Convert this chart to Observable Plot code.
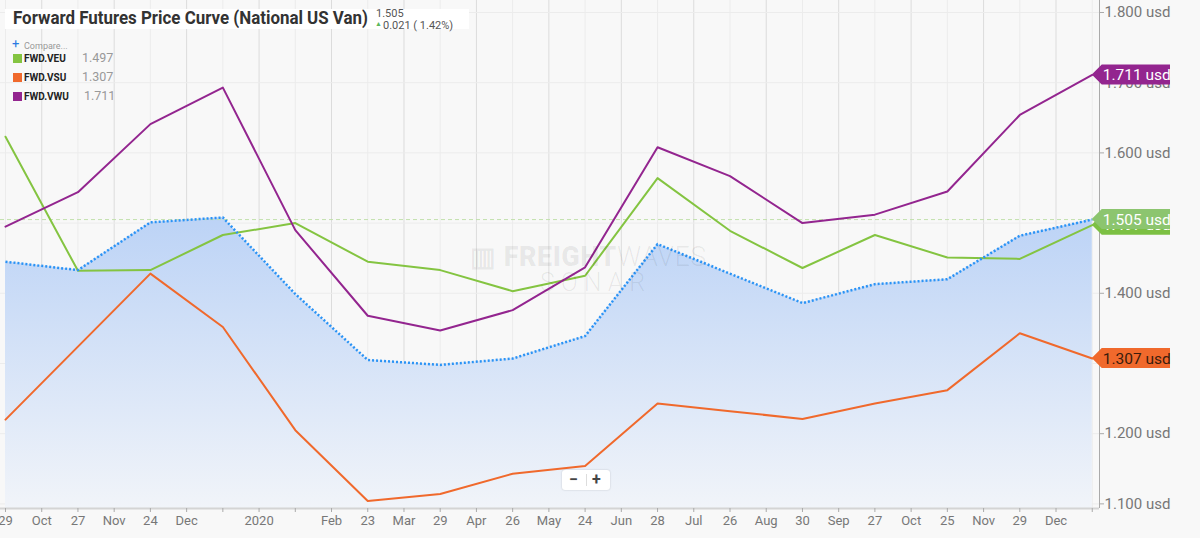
<!DOCTYPE html>
<html><head><meta charset="utf-8">
<script src="https://cdn.jsdelivr.net/npm/d3@7"></script>
<script src="https://cdn.jsdelivr.net/npm/@observablehq/plot@0.6"></script>
<style>
body{margin:0;background:#f8f8f8;font-family:Roboto,sans-serif;}
#wrap{position:relative;width:1200px;height:538px;overflow:hidden;}
.ov{position:absolute;white-space:nowrap;line-height:1;}
</style></head><body>
<div id="wrap">
<div id="chart"></div>
<div class="ov" style="left:5px;top:9px;width:464px;height:20px;background:#fff;"></div>
<div class="ov" id="title" style="left:13px;top:9px;font-size:18px;font-weight:700;color:#333;transform-origin:0 0;">Forward Futures Price Curve (National US Van)</div>
<div class="ov" id="lastVal" style="left:376px;top:7.5px;font-size:11px;color:#555;"></div>
<div class="ov" style="left:375px;top:21px;font-size:7px;color:#5cb85c;">▲</div>
<div class="ov" id="chg" style="left:383px;top:19.5px;font-size:11px;color:#555;"></div>
<div class="ov" style="left:12px;top:37px;font-size:13px;color:#2a7ae2;">+</div>
<div class="ov" style="left:24px;top:41.5px;font-size:9px;color:#999;">Compare...</div>
<div id="legend"></div>
<div class="ov" style="left:470px;top:244px;font-size:27px;font-weight:900;color:rgba(0,0,0,0.07);letter-spacing:0.5px;">▥ FREIGHT<span style="font-weight:300">WAVES</span></div>
<div class="ov" style="left:540px;top:270px;font-size:25px;font-weight:300;color:rgba(0,0,0,0.07);letter-spacing:6px;">SONAR</div>
<div class="ov" style="left:562px;top:470px;width:48px;height:20px;background:#fff;border-radius:3px;box-shadow:0 0 2px rgba(0,0,0,0.2);"></div>
<div class="ov" style="left:569px;top:472px;font-size:16px;font-weight:700;color:#444;">−</div>
<div class="ov" style="left:586px;top:474px;width:1px;height:12px;background:#ddd;"></div>
<div class="ov" style="left:592px;top:472px;font-size:16px;font-weight:700;color:#444;">+</div>
</div>
<script>
// ---- data ----
const tickLabels = ["29","Oct","27","Nov","24","Dec","","2020","","Feb","23","Mar","29","Apr","26","May","24","Jun","28","Jul","26","Aug","30","Sep","27","Oct","25","Nov","29","Dec",""];
const van = [1.445,1.433,1.501,1.508,1.399,1.305,1.298,1.307,1.339,1.470,1.428,1.386,1.413,1.420,1.482,1.505];
const veu = [1.623,1.432,1.433,1.483,1.500,1.445,1.433,1.403,1.425,1.564,1.489,1.436,1.483,1.451,1.449,1.497];
const vsu = [1.220,1.324,1.428,1.352,1.205,1.104,1.114,1.143,1.154,1.243,1.232,1.221,1.243,1.262,1.343,1.307];
const vwu = [1.495,1.544,1.641,1.693,1.490,1.368,1.347,1.376,1.437,1.608,1.567,1.500,1.512,1.545,1.654,1.711];
const seriesNames = ["FWD.VEU","FWD.VSU","FWD.VWU"];
const seriesLast = ["1.497","1.307","1.711"];
const seriesColors = ["#84c441","#f0692c","#93258f"];
const yTicks = [1.1,1.2,1.3,1.4,1.5,1.6,1.7,1.8];
const change = "0.021 ( 1.42%)";

// ---- build ----
const rows = arr => arr.map((v,i)=>({i,v}));
const last = van.length-1;
const xDomain = [-0.069, 15.1];
const yDomain = [1.0934, 1.8171];
const ticksX = tickLabels.map((_,k)=>k/2);
const dayTicks = ticksX.filter((_,k)=>k%2===0);
const monthTicks = ticksX.filter((_,k)=>k%2===1);

const chart = Plot.plot({
  width:1200, height:538, marginLeft:0, marginRight:101, marginTop:0, marginBottom:30,
  x:{domain:xDomain, axis:null},
  y:{domain:yDomain, axis:null},
  style:{background:"#f8f8f8", fontFamily:"Roboto, sans-serif", color:"#777", overflow:"visible"},
  marks:[
    Plot.gridX(dayTicks,{stroke:"#ececec", strokeOpacity:1}),
    Plot.gridX(monthTicks,{stroke:"#dcdcdc", strokeOpacity:1}),
    Plot.gridY(yTicks,{stroke:"#ececec", strokeOpacity:1}),
    Plot.areaY(rows(van),{x:"i", y1:yDomain[0], y2:"v", fill:"url(#vanGrad)"}),
    Plot.ruleY([van[last]],{stroke:"#c3e0ad", strokeDasharray:"4,3", strokeWidth:1}),
    Plot.line(rows(veu),{x:"i", y:"v", stroke:seriesColors[0], strokeWidth:2}),
    Plot.line(rows(vsu),{x:"i", y:"v", stroke:seriesColors[1], strokeWidth:2}),
    Plot.line(rows(vwu),{x:"i", y:"v", stroke:seriesColors[2], strokeWidth:2}),
    Plot.line(rows(van),{x:"i", y:"v", stroke:"#2a93f5", strokeWidth:2.5, strokeDasharray:"2,2", strokeLinecap:"butt"}),
    Plot.ruleY([yDomain[0]],{stroke:"#d4d4d4", strokeWidth:2}),
    Plot.ruleX([xDomain[1]],{stroke:"#aaa", strokeWidth:1}),
    Plot.axisX({ticks:ticksX, tickFormat:d=>tickLabels[Math.round(d*2)], label:null, tickSize:4, tickPadding:3, fontSize:13, stroke:"#aaa"}),
    Plot.axisY({anchor:"right", ticks:yTicks, tickFormat:d=>d.toFixed(3)+" usd", label:null, tickSize:4, tickPadding:1, fontSize:15, stroke:"#aaa"})
  ]
});
document.getElementById("chart").appendChild(chart);

const svg = d3.select(chart);
svg.insert("defs",":first-child").html(
 '<linearGradient id="vanGrad" x1="0" y1="0" x2="0" y2="1">'+
 '<stop offset="0" stop-color="#bcd3f6"/><stop offset="1" stop-color="#f1f4f9"/></linearGradient>');

// value tags on the right
const xs = chart.scale("x"), ys = chart.scale("y");
const tags = [
  {v:veu[last], label:seriesLast[0]+" usd", fill:"#7cc043", text:"#fff"},
  {v:van[last], label:van[last].toFixed(3)+" usd", fill:"#8cc56f", text:"#fff"},
  {v:vwu[last], label:seriesLast[2]+" usd", fill:"#93258f", text:"#fff"},
  {v:vsu[last], label:seriesLast[1]+" usd", fill:"#f0692c", text:"#3b1c0c"}
];
const x0 = xs.apply(last);
const g = svg.append("g").attr("text-anchor","start");
tags.forEach(t=>{
  const y = ys.apply(t.v);
  g.append("polygon")
    .attr("points",`${x0},${y} ${x0+10},${y-10} ${1170},${y-10} ${1170},${y+10} ${x0+10},${y+10}`)
    .attr("fill",t.fill);
  g.append("text").attr("x",x0+11).attr("y",y).attr("dy","0.36em").attr("text-anchor","start")
    .attr("font-size",15.5).attr("fill",t.text).attr("font-family","Roboto, sans-serif").text(t.label);
});

// overlays text
document.getElementById("lastVal").textContent = van[last].toFixed(3);
document.getElementById("chg").textContent = change;
const title = document.getElementById("title");
const w = title.getBoundingClientRect().width;
title.style.transform = `scaleX(${355/w})`;

const leg = document.getElementById("legend");
const legTops = [54,73,92];
seriesNames.forEach((n,k)=>{
  const top = legTops[k];
  leg.insertAdjacentHTML("beforeend",
   `<div class="ov" style="left:13px;top:${top}px;width:9px;height:9px;background:${seriesColors[k]};"></div>`+
   `<div class="ov" style="left:24px;top:${top}px;font-size:10px;font-weight:700;color:#222;">${n}</div>`+
   `<div class="ov" style="left:${k===2?84:82}px;top:${top-2}px;font-size:12.5px;color:#999;">${seriesLast[k]}</div>`);
});
</script>
</body></html>
